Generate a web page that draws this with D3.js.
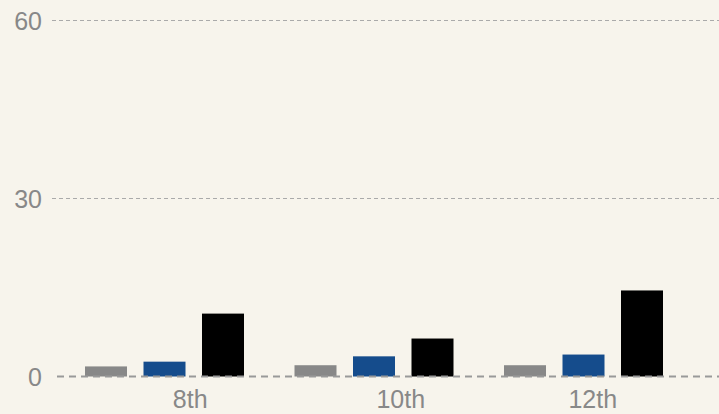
<!DOCTYPE html>
<html>
<head>
<meta charset="utf-8">
<script src="https://cdn.jsdelivr.net/npm/d3@7"></script>
<style>
  html, body { margin: 0; padding: 0; background: #f7f4ec; }
  svg { display: block; }
  text { font-family: "Liberation Sans", Arial, sans-serif; fill: #888888; }
</style>
</head>
<body>
<div id="chart"></div>
<script>
// categories and series
const grades = ["8th", "10th", "12th"];
const seriesNames = ["a", "b", "c"];
const seriesA = [1.7, 1.9, 1.9];
const seriesB = [2.5, 3.4, 3.7];
const seriesC = [10.6, 6.4, 14.5];
const yTicks = [0, 30, 60];
// small nudges of the grade labels, as seen in the picture
const labelNudge = [25.5, 26.5, 9];

const colors = ["#888888", "#154c8c", "#000000"];
const values = [seriesA, seriesB, seriesC];

var width = 719, height = 414;

var svg = d3.select("#chart").append("svg")
  .attr("width", width)
  .attr("height", height);

var x0 = d3.scaleBand().domain(grades).range([60, 688.5]).padding(0);
var x1 = d3.scaleBand().domain(seriesNames).range([25, 184]).paddingInner(0.282).paddingOuter(0);
var y = d3.scaleLinear().domain([0, 60]).range([376.5, 20.5]);

// grid lines
svg.append("g").selectAll("line")
  .data(yTicks.filter(d => d !== 0))
  .enter().append("line")
  .attr("x1", 52).attr("x2", width)
  .attr("y1", d => y(d))
  .attr("y2", d => y(d))
  .attr("stroke", "#aaaaaa")
  .attr("stroke-width", 1.2)
  .attr("stroke-dasharray", "4,3");

// tick labels
svg.append("g").selectAll("text")
  .data(yTicks)
  .enter().append("text")
  .attr("x", 42)
  .attr("y", d => y(d))
  .attr("dy", "0.36em")
  .attr("text-anchor", "end")
  .attr("font-size", 25)
  .text(d => d);

// bars
var groups = svg.append("g").selectAll("g")
  .data(grades)
  .enter().append("g")
  .attr("transform", d => "translate(" + x0(d) + ",0)");

groups.selectAll("rect")
  .data((g, gi) => seriesNames.map((s, si) => ({ s: s, si: si, v: values[si][gi] })))
  .enter().append("rect")
  .attr("x", d => x1(d.s))
  .attr("width", x1.bandwidth())
  .attr("y", d => y(d.v))
  .attr("height", d => y(0) - y(d.v))
  .attr("fill", d => colors[d.si]);

// zero line
svg.append("line")
  .attr("x1", 57).attr("x2", width)
  .attr("y1", y(0)).attr("y2", y(0))
  .attr("stroke", "#999999")
  .attr("stroke-width", 2)
  .attr("stroke-dasharray", "7,5");

// grade labels
svg.append("g").selectAll("text")
  .data(grades)
  .enter().append("text")
  .attr("x", (d, i) => x0(d) + x0.bandwidth() / 2 + labelNudge[i])
  .attr("y", 408)
  .attr("text-anchor", "middle")
  .attr("font-size", 25)
  .text(d => d);
</script>
</body>
</html>
